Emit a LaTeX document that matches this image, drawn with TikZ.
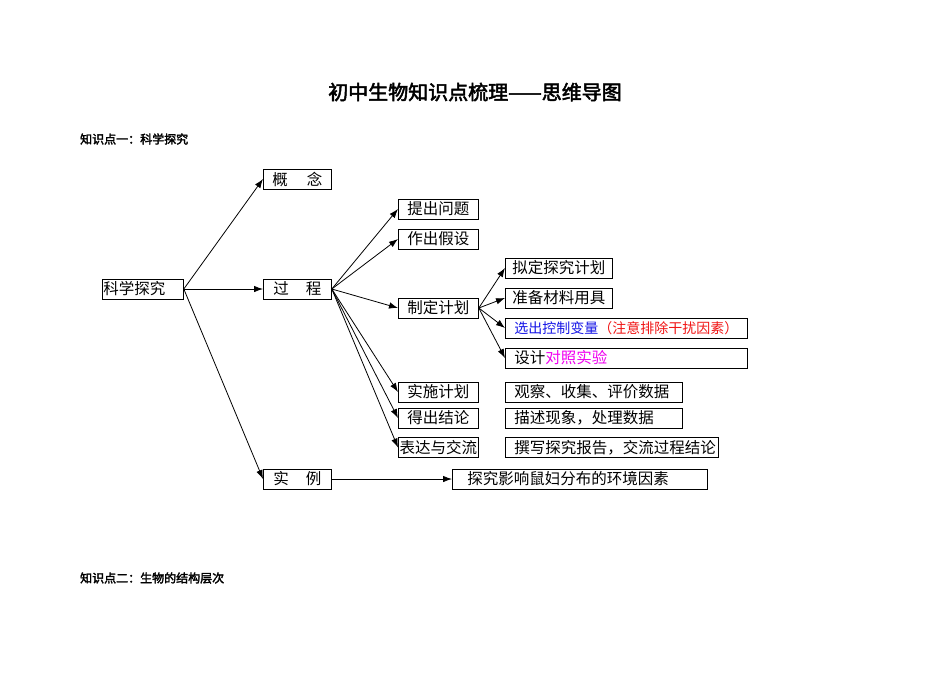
\documentclass[tikz,border=0pt]{standalone}
\usepackage{fontspec}
\setmainfont{Noto Sans CJK SC}
\newfontfamily\cjkbf[FakeBold=2.5]{Noto Sans CJK SC}
\usepackage{tikz}
\usetikzlibrary{arrows.meta}
\tikzset{>={Latex[length=9pt,width=6.5pt]}}
\definecolor{ctrlblue}{RGB}{20,20,230}
\definecolor{noteRed}{RGB}{240,20,20}
\definecolor{pinkish}{RGB}{240,0,240}

\tikzset{
    box/.style={draw, line width=.8pt, minimum height=20pt, inner ysep=0pt,
                inner xsep=1pt, anchor=west, font=\fontsize{15.5}{16}\selectfont},
    lbox/.style={box, inner xsep=9pt, align=left},
    arr/.style={->, line width=.8pt},
}

\begin{document}
\begin{tikzpicture}[x=1pt,y=-1pt]
    \useasboundingbox (0,0) rectangle (950,672);

    % headings
    \node (title) at (475,92) {\cjkbf\fontsize{20}{22}\selectfont 初中生物知识点梳理——思维导图};
    \node[anchor=west, inner sep=0pt] (sec1) at (80,139) {\cjkbf\fontsize{12}{13}\selectfont 知识点一：科学探究};
    \node[anchor=west, inner sep=0pt] (sec2) at (80,578) {\cjkbf\fontsize{12}{13}\selectfont 知识点二：生物的结构层次};

    % root and first level
    \node[box, text width=79pt, align=left] (kxtj) at (102,289) {科学探究};
    \node[box, minimum width=68pt] (gainian) at (263,179) {概\hspace{19pt}念};
    \node[box, minimum width=68pt] (guocheng) at (263,289) {过\hspace{17pt}程};
    \node[box, minimum width=68pt] (shili) at (263,479) {实\hspace{17pt}例};

    % steps
    \node[box, minimum width=80pt] (tiwen) at (398,209) {提出问题};
    \node[box, minimum width=80pt] (jiashe) at (398,239) {作出假设};
    \node[box, minimum width=80pt] (jihua) at (398,308) {制定计划};
    \node[box, minimum width=80pt] (shishi) at (398,392) {实施计划};
    \node[box, minimum width=80pt] (jielun) at (398,418) {得出结论};
    \node[box, minimum width=80pt] (jiaoliu) at (398,447.5) {表达与交流};

    % plan details
    \node[box, minimum width=107pt] (niding) at (505,268) {拟定探究计划};
    \node[box, minimum width=107pt] (zhunbei) at (505,298) {准备材料用具};
    \node[lbox, text width=224pt, font=\fontsize{14}{15}\selectfont] (bianliang) at (505,328)
        {\textcolor{ctrlblue}{选出控制变量}\textcolor{noteRed}{（注意排除干扰因素）}};
    \node[lbox, text width=224pt] (duizhao) at (505,358) {设计\textcolor{pinkish}{对照实验}};

    % notes beside steps
    \node[lbox, text width=159pt] (guancha) at (505,392) {观察、收集、评价数据};
    \node[lbox, text width=159pt] (miaoshu) at (505,418) {描述现象，处理数据};
    \node[lbox, text width=195pt] (zhuanxie) at (505,447.5) {撰写探究报告，交流过程结论};
    \node[lbox, inner xsep=15pt, text width=225pt] (shuf) at (452,479) {探究影响鼠妇分布的环境因素};

    % connectors
    \foreach \t in {gainian,guocheng,shili}
        \draw[arr] (kxtj.east) -- (\t.west);
    \foreach \t in {tiwen,jiashe,jihua,shishi,jielun,jiaoliu}
        \draw[arr] (guocheng.east) -- (\t.west);
    \foreach \t in {niding,zhunbei,bianliang,duizhao}
        \draw[arr] (jihua.east) -- (\t.west);
    \draw[arr] (shili.east) -- (shuf.west);
\end{tikzpicture}
\end{document}
